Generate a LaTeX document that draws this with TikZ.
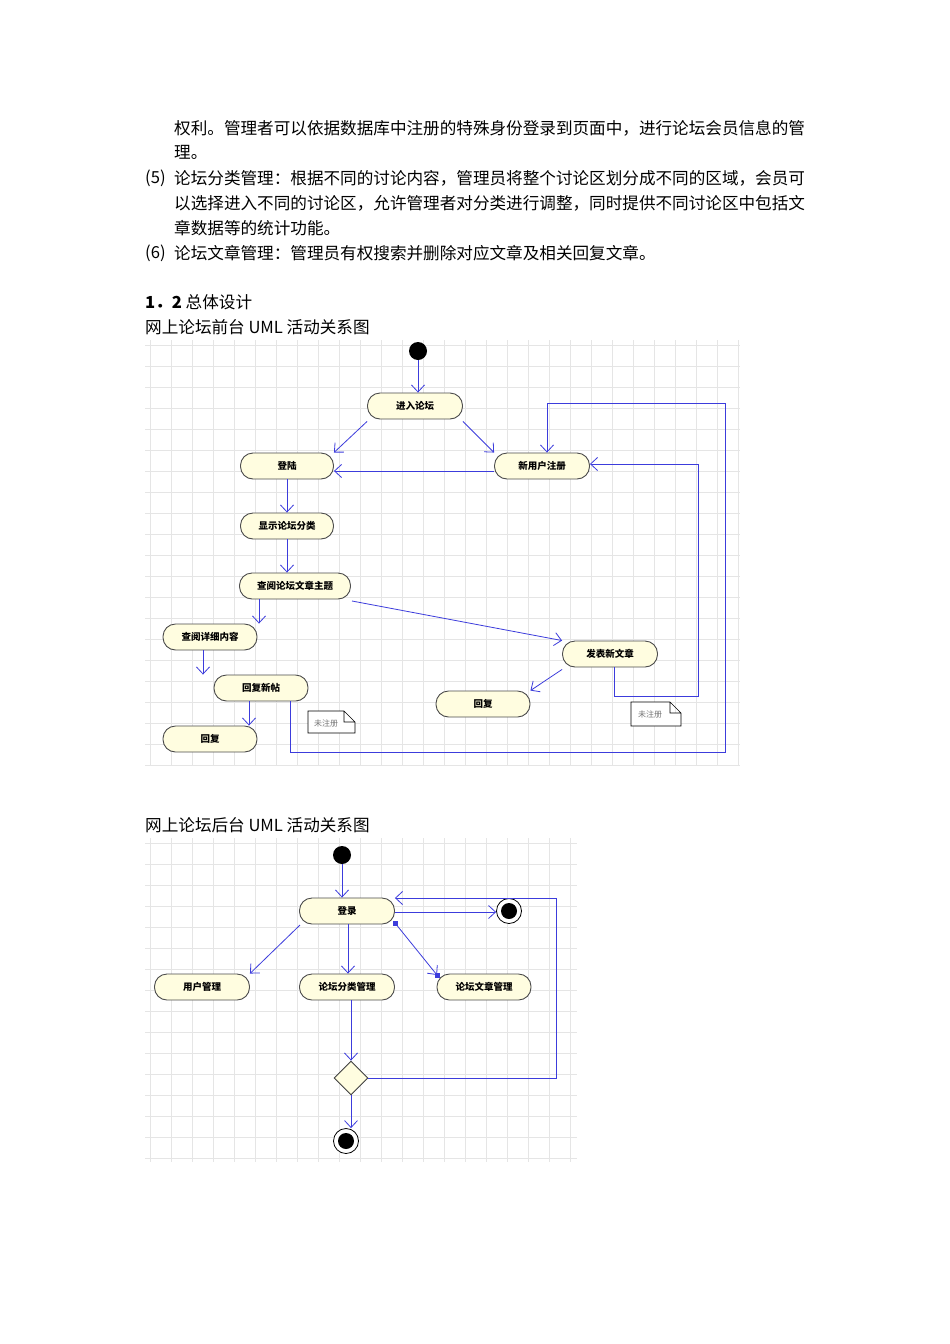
\documentclass[tikz,border=0pt]{standalone}
\usepackage{fontspec}
\setmainfont{Noto Sans CJK SC}
\usetikzlibrary{arrows.meta,shapes.geometric}
\definecolor{fl}{RGB}{60,60,220}
\begin{document}
\begin{tikzpicture}[x=1pt,y=-1pt,
  txt/.style={anchor=west,inner sep=0,font=\fontsize{16.6}{18}\selectfont},
  act/.style={draw=black!70,fill=yellow!12,line width=0.9pt,rounded corners=12.5pt,minimum height=26pt,inner sep=0,font=\bfseries\fontsize{9.5}{10}\selectfont},
  flow/.style={draw=fl,line width=0.8pt,-{Straight Barb[length=7pt,width=13pt]}},
  note/.style={draw=black,fill=white,line width=0.6pt},
  notetxt/.style={font=\fontsize{8}{8}\selectfont,text=black!55,inner sep=0},
  startn/.style={circle,fill=black,minimum size=18pt,inner sep=0},
  endn/.style={circle,draw=black,fill=white,line width=0.8pt,minimum size=25pt,inner sep=0,path picture={\fill[black] (path picture bounding box.center) circle (8pt);}},
  grid/.style={draw=black!10,line width=0.6pt}]
\useasboundingbox (0,0) rectangle (950,1344);
\fill[white] (0,0) rectangle (950,1344);
% text
\node[txt] (t1) at (174,128) {权利。管理者可以依据数据库中注册的特殊身份登录到页面中，进行论坛会员信息的管};
\node[txt] (t2) at (174,152) {理。};
\node[txt] (t3a) at (145,178) {(5)};
\node[txt] (t3) at (174,178) {论坛分类管理：根据不同的讨论内容，管理员将整个讨论区划分成不同的区域，会员可};
\node[txt] (t4) at (174,203) {以选择进入不同的讨论区，允许管理者对分类进行调整，同时提供不同讨论区中包括文};
\node[txt] (t5) at (174,228) {章数据等的统计功能。};
\node[txt] (t6a) at (145,253) {(6)};
\node[txt] (t6) at (174,253) {论坛文章管理：管理员有权搜索并删除对应文章及相关回复文章。};
\node[txt] (h1) at (145,302) {\textbf{1．2} 总体设计};
\node[txt] (c1) at (145,327) {网上论坛前台 UML 活动关系图};
\node[txt] (c2) at (145,825) {网上论坛后台 UML 活动关系图};
% grids
\foreach \x in {150,171,...,740} \draw[grid] (\x,340) -- (\x,765);
\foreach \y in {345,366,...,765} \draw[grid] (145,\y) -- (740,\y);
\foreach \x in {150,171,...,577} \draw[grid] (\x,838) -- (\x,1162);
\foreach \y in {843,864,...,1162} \draw[grid] (145,\y) -- (577,\y);
% diagram 1
\node[startn] (s1) at (418,351) {};
\node[act,minimum width=95pt] (enter) at (415,406) {进入论坛};
\node[act,minimum width=93pt] (login) at (287,466) {登陆};
\node[act,minimum width=95pt] (reg) at (542,466) {新用户注册};
\node[act,minimum width=93pt] (show) at (287,526) {显示论坛分类};
\node[act,minimum width=111pt] (topic) at (295,586) {查阅论坛文章主题};
\node[act,minimum width=94pt] (detail) at (210,637) {查阅详细内容};
\node[act,minimum width=94pt] (replynew) at (261,688) {回复新帖};
\node[act,minimum width=94pt] (reply1) at (210,739) {回复};
\node[act,minimum width=95pt] (post) at (610,654) {发表新文章};
\node[act,minimum width=94pt] (reply2) at (483,704) {回复};
\draw[note] (308,711) -- (344,711) -- (355,722) -- (355,733) -- (308,733) -- cycle (344,711) -- (344,722) -- (355,722);
\node[notetxt] (n1) at (326,723) {未注册};
\draw[note] (631,702) -- (670,702) -- (681,713) -- (681,726) -- (631,726) -- cycle (670,702) -- (670,713) -- (681,713);
\node[notetxt] (n2) at (650,714) {未注册};
\draw[flow] (s1) -- (enter.north -| s1);
\draw[flow] (enter.south west) ++(0,2) -- (login.north east);
\draw[flow] (enter.south east) ++(0,2) -- (reg.north west);
\draw[flow] (reg.west |- 0,471) -- (login.east |- 0,471);
\draw[flow] (login) -- (show);
\draw[flow] (show) -- (topic.north -| show);
\draw[flow] (topic.south -| 259,0) -- (detail.north -| 259,0);
\draw[flow] (detail.south -| 203,0) -- (replynew.north -| 203,0);
\draw[flow] (replynew.south -| 249,0) -- (reply1.north -| 249,0);
\draw[flow] (352,601) -- (post.north west);
\draw[flow] (post.south west) ++(0,2) -- (reply2.north east);
\coordinate (p1) at (614,696);
\coordinate (p2) at (698,696);
\coordinate (p3) at (698,464);
\draw[flow] (post.south -| p1) -- (p1) -- (p2) -- (p3) -- (reg.east |- p3);
\coordinate (q1) at (290,752);
\coordinate (q2) at (725,752);
\coordinate (q3) at (725,403);
\coordinate (q4) at (547,403);
\draw[flow] (replynew.south -| q1) -- (q1) -- (q2) -- (q3) -- (q4) -- (reg.north -| q4);
% diagram 2
\node[startn] (s2) at (342,855) {};
\node[act,minimum width=95pt] (dl) at (347,911) {登录};
\node[endn] (e1) at (509,911) {};
\node[act,minimum width=95pt] (user) at (202,987) {用户管理};
\node[act,minimum width=95pt] (cat) at (347,987) {论坛分类管理};
\node[act,minimum width=94pt] (art) at (484,987) {论坛文章管理};
\node[diamond,draw=black!75,fill=yellow!12,line width=0.9pt,minimum size=34pt,inner sep=0] (dec) at (351,1078) {};
\node[endn] (e2) at (346,1141) {};
\draw[flow] (s2) -- (dl.north -| s2);
\draw[flow] (300,925) -- (user.north east);
\draw[flow] (dl.south -| 348,0) -- (cat.north -| 348,0);
\coordinate (sq1) at (395,923);
\coordinate (sq2) at (437,975);
\draw[flow] (sq1) -- (sq2);
\fill[fl] (sq1) ++(-2.5,-2.5) rectangle ++(5,5);
\fill[fl] (sq2) ++(-2.5,-2.5) rectangle ++(5,5);
\draw[flow] (dl.east |- 0,912) -- (e1.west |- 0,912);
\draw[flow] (cat.south -| dec) -- (dec.north);
\draw[flow] (dec.south) -- (e2.north -| dec);
\coordinate (r1) at (556,1078);
\coordinate (r2) at (556,898);
\draw[flow] (dec.east) -- (r1) -- (r2) -- (dl.east |- r2);
\end{tikzpicture}
\end{document}
